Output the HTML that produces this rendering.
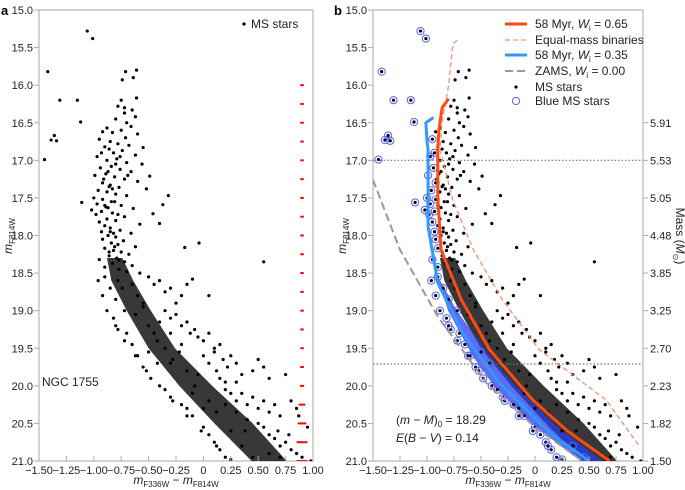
<!DOCTYPE html>
<html><head><meta charset="utf-8"><style>
html,body{margin:0;padding:0;background:#fff;}
svg{display:block;font-family:"Liberation Sans",sans-serif;}
</style></head><body>
<svg id="fig" width="685" height="490" viewBox="0 0 685 490" xmlns="http://www.w3.org/2000/svg">
<text x="1" y="15" font-size="13" font-weight="bold">a</text>
<text x="334" y="15" font-size="13" font-weight="bold">b</text>
<g id="pa"></g>
<g id="pb"></g>
</svg>
<script>
// ---- data ----
const xTicks = [-1.5,-1.25,-1.0,-0.75,-0.5,-0.25,0,0.25,0.5,0.75,1.0];
const xTickLabels = ["−1.50","−1.25","−1.00","−0.75","−0.50","−0.25","0","0.25","0.50","0.75","1.00"];
const yTicks = [15.0,15.5,16.0,16.5,17.0,17.5,18.0,18.5,19.0,19.5,20.0,20.5,21.0];
const yTickLabels = ["15.0","15.5","16.0","16.5","17.0","17.5","18.0","18.5","19.0","19.5","20.0","20.5","21.0"];
const massMags = [16.5,17.0,17.5,18.0,18.5,19.0,19.5,20.0,20.5,21.0];
const massLabels = ["5.91","5.53","5.05","4.48","3.85","3.25","2.70","2.23","1.82","1.50"];
const dottedMags = [17.0,19.71];
// star colours and magnitudes (flat pairs: colour, mag)
const starsUpper = [-1.06,15.28,-1.01,15.38,-1.42,15.82,-1.31,16.2,-1.15,16.2,-0.71,15.82,-0.61,15.8,-0.74,15.93,-0.64,15.9,-0.61,16.17,-0.75,16.2,-0.72,16.3,-0.65,16.33,
-1.39,16.73,-1.34,16.74,-1.36,16.67,-1.45,16.99,-1.12,16.49,-1.11,17.56,-0.17,18.16,-0.04,18.1,-0.32,17.47,-0.37,17.59,-0.40,17.84,-0.46,17.71,-0.49,17.21,0.55,18.35,
-0.78,16.28,-0.72,16.37,-0.62,16.42,-0.80,16.45,-0.70,16.5,-0.66,16.55,-0.88,16.57,-0.75,16.6,-0.92,16.62,-0.83,16.63,-0.60,16.65,-0.71,16.7,-0.95,16.72,-0.85,16.75,-0.78,16.78,-0.68,16.8,-0.90,16.82,-0.55,16.83,-0.74,16.87,-0.82,16.9,-0.62,16.93,-0.97,16.95,-0.79,16.98,-0.88,17.0,-0.70,17.03,-0.56,17.05,-0.84,17.08,-0.94,17.1,-0.76,17.12,-0.66,17.15,-0.89,17.18,-0.99,17.2,-0.81,17.22,-0.72,17.25,-0.60,17.28,-0.92,17.3,-0.85,17.33,-0.77,17.36,-0.52,17.38,-0.96,17.4,-0.88,17.42,-0.80,17.45,-0.70,17.47,-1.0,17.5,-0.92,17.52,-0.84,17.55,-0.97,17.58,-0.75,17.6,-0.89,17.62,-0.64,17.64,-1.02,17.66,-0.93,17.68,-0.83,17.7,-0.98,17.72,-0.72,17.75,-0.88,17.78,-0.80,17.8,-0.95,17.82,-0.58,17.85,-0.90,17.87,-0.85,17.9,-0.76,17.93,-0.93,17.95,-0.66,17.97,-0.87,18.0,-0.80,18.02,-0.92,18.05,-0.73,18.07,-0.84,18.1,-0.78,18.12,-0.62,18.15,-0.90,18.17,-0.82,18.2,-0.75,18.22,-0.68,18.25,-0.86,18.27,-0.79,18.3,-0.95,18.32,-0.72,18.35,-0.83,18.37,-0.65,18.4,-0.90,18.42,-0.77,18.45,-0.70,18.48,-0.58,18.5,
-0.86,17.35,-0.83,17.38,-0.85,17.95,-0.82,17.97,-0.90,17.6,-0.87,17.63,-0.81,18.15,-0.77,18.33,-0.91,17.25,-0.87,17.15,-0.80,17.05,-0.93,16.9,-0.86,16.85,-0.76,16.95,-0.69,17.2,-0.81,17.55,-0.78,17.72,-0.86,18.22];
const starsLower = [-0.9,18.55,-0.85,18.7,-0.8,18.85,-0.78,18.6,-0.5,18.55,-0.45,18.65,-0.4,18.6,-0.35,18.75,-0.3,18.7,-0.25,18.9,-0.2,18.8,-0.55,18.9,-0.72,19.0,-0.1,18.58,0.05,18.8,-0.15,18.65,
-0.82,19.1,-0.78,19.25,-0.7,19.3,-0.65,19.45,-0.35,19.0,-0.3,19.1,-0.25,19.05,-0.2,19.2,-0.15,19.15,-0.12,19.3,-0.05,19.35,0.0,19.4,0.05,19.3,-0.08,19.25,-0.3,19.3,-0.2,19.45,0.1,19.5,0.15,19.45,
-0.6,19.6,-0.55,19.75,-0.5,19.55,-0.48,19.9,-0.42,19.7,0.0,19.6,0.05,19.7,0.1,19.55,0.12,19.8,0.18,19.65,0.22,19.75,0.25,19.6,0.3,19.7,0.35,19.85,0.15,19.9,0.45,19.8,0.5,19.65,0.55,19.75,0.2,19.95,0.3,19.95,0.6,19.9,0.75,19.85,
-0.35,20.05,-0.3,20.15,-0.2,20.25,-0.15,20.3,-0.1,20.4,0.2,20.05,0.25,20.1,0.3,20.2,0.35,20.1,0.4,20.25,0.45,20.15,0.5,20.3,0.55,20.2,0.6,20.35,0.65,20.25,0.7,20.4,0.8,20.2,0.85,20.3,0.87,20.4,0.4,20.45,0.5,20.5,0.3,20.35,
0.0,20.55,0.05,20.65,0.1,20.75,0.15,20.85,0.2,20.95,0.55,20.55,0.6,20.65,0.65,20.7,0.7,20.8,0.75,20.75,0.8,20.85,0.85,20.9,0.9,20.95,0.95,20.55,0.98,21.0,0.7,20.95,0.6,20.9,0.68,20.6,0.78,20.65,
-0.74,18.7,-0.6,18.8,-0.62,19.05,-0.45,19.3,-0.5,19.2,-0.35,19.5,-0.28,19.65,-0.15,19.8,-0.08,20.0,0.05,20.2,0.12,20.35,0.25,20.6,0.35,20.8,0.45,20.95,-0.42,19.4,-0.3,19.7,-0.1,20.1,0.0,20.3,
-0.96,18.6,-0.92,18.8,-0.88,19.0,-0.8,19.2,-0.72,19.4,-0.62,19.6,-0.52,19.8,-0.4,20.0,-0.28,20.2,-0.15,20.4,-0.02,20.6,0.12,20.8,0.25,20.98,-0.65,18.65,-0.55,18.95,-0.4,19.15,-0.22,19.55,-0.05,19.85,0.2,20.25,0.38,20.6];
// dense main-sequence core: magnitude, blue edge, red edge
const bandMags = [18.3,18.6,19.0,19.5,20.0,20.5,21.0];
const bandBlue = [-0.88,-0.84,-0.70,-0.50,-0.22,0.10,0.44];
const bandRed  = [-0.74,-0.64,-0.48,-0.26,0.08,0.45,0.76];
// photometric errors (panel a)
const errMags = [16.0,16.25,16.5,16.75,17.0,17.25,17.5,17.75,18.0,18.25,18.5,18.75,19.0,19.25,19.5,19.75,20.0,20.25,20.5,20.75,21.0];
const errWidths = [0.005,0.005,0.005,0.005,0.005,0.005,0.005,0.005,0.005,0.005,0.005,0.005,0.006,0.006,0.007,0.008,0.01,0.02,0.03,0.04,0.04];
// isochrones (colour, mag)
const isoRedC = [-0.80,-0.86,-0.89,-0.90,-0.90,-0.87,-0.68,-0.42,-0.02,0.30,0.69];
const isoRedM = [16.18,16.3,16.6,16.86,17.5,18.19,18.86,19.52,20.19,20.6,21.0];
const isoBinC = [-0.72,-0.76,-0.80,-0.86,-0.88,-0.76,-0.57,-0.30,0.04,0.66,0.97];
const isoBinM = [15.4,15.45,16.0,16.5,16.86,17.53,18.19,18.86,19.52,20.19,20.81];
const isoBlueC = [-0.94,-1.01,-1.00,-0.99,-0.99,-0.90,-0.67,-0.33,0.14,0.50];
const isoBlueM = [16.43,16.5,16.75,16.86,17.88,18.63,19.3,19.96,20.63,21.0];
const zamsC = [-1.5,-1.25,-0.9,-0.45,0.0,0.44];
const zamsM = [17.26,18.19,19.08,19.96,20.55,21.0];

// ---- drawing ----
const NS="http://www.w3.org/2000/svg";
const Y0=10, Y1=461;
function yS(m){return Y0+(m-15)/6*(Y1-Y0);}
function mk(parent,tag,attrs){const e=document.createElementNS(NS,tag);for(const k in attrs)e.setAttribute(k,attrs[k]);parent.appendChild(e);return e;}
function interp(xs,ys,v){
  if(v<=xs[0])return ys[0]; for(let i=1;i<xs.length;i++){if(v<=xs[i]){const t=(v-xs[i-1])/(xs[i]-xs[i-1]);return ys[i-1]+t*(ys[i]-ys[i-1]);}} return ys[ys.length-1];}

function panel(g,X0,X1,isB){
  const xS=c=>X0+(c+1.5)/2.5*(X1-X0);
  const clip = isB?'cb':'ca';
  const cp=mk(g,'clipPath',{id:clip}); mk(cp,'rect',{x:X0,y:Y0,width:X1-X0,height:Y1-Y0});
  const box=mk(g,'rect',{x:X0,y:Y0,width:X1-X0,height:Y1-Y0,fill:'none',stroke:'#aaa','stroke-width':1});
  
  
  const data=mk(g,'g',{'clip-path':'url(#'+clip+')'});
  
  
  let pts=[];
  for(let i=0;i<bandMags.length;i++)pts.push(xS(bandBlue[i])+','+yS(bandMags[i]));
  for(let i=bandMags.length-1;i>=0;i--)pts.push(xS(bandRed[i])+','+yS(bandMags[i]));
  const band=mk(data,'polygon',{points:pts.join(' '),fill:'#000','fill-opacity':0.78});
  
  
  const all=starsUpper.concat(starsLower);
  if(isB){
    const bm=[18.5,19.0,19.6,20.0,20.5,21.0];
    const bw=[0.0,0.08,0.16,0.2,0.2,0.2];
    let bp=[];
    for(let i=0;i<bm.length;i++)bp.push(xS(interp(isoBlueM,isoBlueC,bm[i])-bw[i]*0.4)+','+yS(bm[i]));
    for(let i=bm.length-1;i>=0;i--)bp.push(xS(interp(isoBlueM,isoBlueC,bm[i])+bw[i]*0.6)+','+yS(bm[i]));
    const bb=mk(data,'polygon',{points:bp.join(' '),fill:'#2a3cf0','fill-opacity':0.75});
    
    
  }
  for(let i=0;i<all.length;i+=2){
    const c=all[i],m=all[i+1];
    const d=mk(data,'circle',{cx:xS(c),cy:yS(m),r:1.6,fill:'#000'});
    
    
    if(isB && c < interp(isoBlueM,isoBlueC,m)+0.07){
      const o=mk(data,'circle',{cx:xS(c),cy:yS(m),r:3.6,fill:'none',stroke:'#5560ff','stroke-width':1});
      
      
    }
  }
  if(!isB){
    for(let i=0;i<errMags.length;i++){
      const x=xS(0.9),y=yS(errMags[i]);
      const w=Math.max(1.5,errWidths[i]*(X1-X0)/2.5*2);
      const e=mk(data,'line',{x1:x-w/2-1,x2:x+w/2+1,y1:y,y2:y,stroke:'#f00','stroke-width':2});
      
      
    }
  } else {
    const line=(cs,ms,st,w,da,name)=>{
      const p=cs.map((c,i)=>xS(c)+','+yS(ms[i])).join(' ');
      const l=mk(data,'polyline',{points:p,fill:'none',stroke:st,'stroke-width':w,'stroke-linejoin':'round'});
      if(da)l.setAttribute('stroke-dasharray',da);
      
      
    };
    line(zamsC,zamsM,'#999',2,'8,4','zams-line');
    line(isoBlueC,isoBlueM,'#3399ff',3,null,'isochrone-w035');
    line(isoBinC,isoBinM,'#f59070',1.3,'5,3','equal-mass-binaries');
    line(isoRedC,isoRedM,'#ff4a10',3,null,'isochrone-w065');
    for(const dm of dottedMags){
      const l=mk(g,'line',{x1:X0,x2:X1,y1:yS(dm),y2:yS(dm),stroke:'#777','stroke-width':1.2,'stroke-dasharray':'1.5,2'});
      
      
    }
    for(let i=0;i<massMags.length;i++){
      const y=yS(massMags[i]);
      mk(g,'line',{x1:X1,x2:X1+5,y1:y,y2:y,stroke:'#aaa'});
      const t=mk(g,'text',{x:X1+7,y:y+4,'font-size':11,fill:'#222'});t.textContent=massLabels[i];
      
      
    }
  }
  for(let i=0;i<xTicks.length;i++){
    const x=xS(xTicks[i]);
    mk(g,'line',{x1:x,x2:x,y1:Y1,y2:Y1-5,stroke:'#aaa'});
    const t=mk(g,'text',{x:x,y:Y1+13,'font-size':11,'text-anchor':'middle',fill:'#222'});t.textContent=xTickLabels[i];
    
    
  }
  for(let i=0;i<yTicks.length;i++){
    const y=yS(yTicks[i]);
    mk(g,'line',{x1:X0-5,x2:X0,y1:y,y2:y,stroke:'#aaa'});
    const t=mk(g,'text',{x:X0-6,y:y+4,'font-size':11,'text-anchor':'end',fill:'#222'});t.textContent=yTickLabels[i];
    
    
  }
  const xl=mk(g,'text',{x:(X0+X1)/2,y:484,'font-size':12,'text-anchor':'middle',fill:'#222'});
  xl.innerHTML='<tspan font-style="italic">m</tspan><tspan font-size="8" dy="3">F336W</tspan><tspan dy="-3"> − </tspan><tspan font-style="italic">m</tspan><tspan font-size="8" dy="3">F814W</tspan>';
  
  
  const tx=X0-27, ty=236;
  const yl=mk(g,'text',{x:tx,y:ty,'font-size':12,'text-anchor':'middle',fill:'#222',transform:'rotate(-90 '+tx+' '+ty+')'});
  yl.innerHTML='<tspan font-style="italic">m</tspan><tspan font-size="8" dy="3">F814W</tspan>';
  
  
}
const pa=document.getElementById('pa'), pb=document.getElementById('pb');
panel(pa,39,313,false);
panel(pb,373,643,true);
</script>
<script>
const fig=document.getElementById('fig');
fig.insertAdjacentHTML('beforeend',`
<g>
<circle cx="244" cy="24" r="1.6" fill="#000"/><text x="251" y="28" font-size="12" fill="#222">MS stars</text></g>
<text x="42" y="386" font-size="12" fill="#222">NGC 1755</text>
<g font-size="12" fill="#222">
<line x1="505" x2="527" y1="24" y2="24" stroke="#ff4a10" stroke-width="3"/>
<text x="535" y="28">58 Myr, <tspan font-style="italic">W</tspan><tspan font-size="8" dy="3">i</tspan><tspan dy="-3"> = 0.65</tspan></text>
<line x1="505" x2="527" y1="40" y2="40" stroke="#f59070" stroke-width="1.3" stroke-dasharray="5,3"/>
<text x="535" y="44">Equal-mass binaries</text>
<line x1="505" x2="527" y1="55" y2="55" stroke="#3399ff" stroke-width="3"/>
<text x="535" y="59">58 Myr, <tspan font-style="italic">W</tspan><tspan font-size="8" dy="3">i</tspan><tspan dy="-3"> = 0.35</tspan></text>
<line x1="505" x2="527" y1="71" y2="71" stroke="#999" stroke-width="2" stroke-dasharray="8,4"/>
<text x="535" y="75">ZAMS, <tspan font-style="italic">W</tspan><tspan font-size="8" dy="3">i</tspan><tspan dy="-3"> = 0.00</tspan></text>
<circle cx="516" cy="87" r="1.6" fill="#000"/><text x="535" y="91">MS stars</text>
<circle cx="516" cy="101" r="3.6" fill="none" stroke="#5560ff"/><text x="535" y="105">Blue MS stars</text>
</g>
<text x="396" y="424" font-size="12" fill="#222">(<tspan font-style="italic">m</tspan> − <tspan font-style="italic">M</tspan>)<tspan font-size="8" dy="3">0</tspan><tspan dy="-3"> = 18.29</tspan></text>
<text x="396" y="442" font-size="12" fill="#222"><tspan font-style="italic">E</tspan>(<tspan font-style="italic">B</tspan> − <tspan font-style="italic">V</tspan>) = 0.14</text>
<text x="676" y="236" transform="rotate(90 676 236)" font-size="12" text-anchor="middle" fill="#222">Mass (<tspan font-style="italic">M</tspan><tspan font-size="8" dy="3">⊙</tspan><tspan dy="-3">)</tspan></text>
`);
</script>
</body></html>
